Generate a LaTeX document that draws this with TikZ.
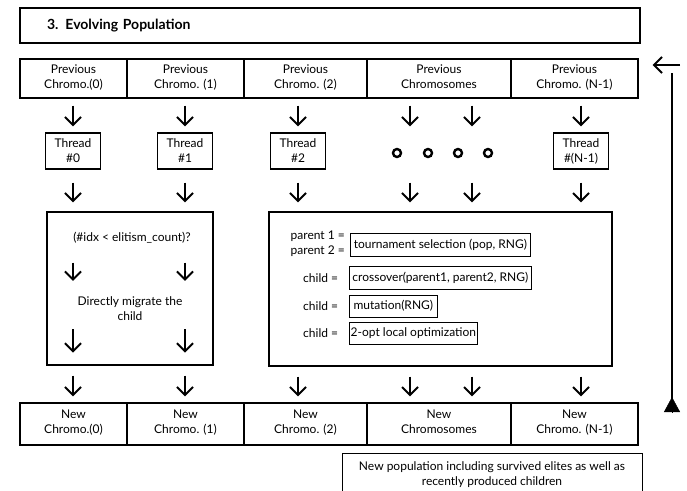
\documentclass[tikz,border=0pt]{standalone}
\usepackage{fontspec}
\setmainfont{Lato}
\usetikzlibrary{arrows.meta}

\tikzset{
  txt/.style={font=\fontsize{12}{15}\selectfont},
  cell/.style={txt, draw, line width=1.2pt, align=center, inner sep=0pt, minimum height=39pt, execute at end node=\strut},
  thread/.style={txt, draw, line width=1.2pt, align=center, inner sep=0pt, minimum width=55pt, minimum height=36pt},
  bigbox/.style={draw, line width=1.2pt, inner sep=0pt},
  fnbox/.style={txt, draw, line width=0.7pt, inner sep=0pt, minimum height=23pt, anchor=west},
  dotc/.style={circle, draw, line width=2.4pt, minimum size=8pt, inner sep=0pt},
  arr/.style={line width=1.6pt, -{Straight Barb[length=8pt,width=16pt,line width=2pt]}},
}

\begin{document}
\begin{tikzpicture}[x=1pt,y=-1pt]
		\useasboundingbox (0,0) rectangle (687,490);
		%%%%% START %%%%%
		
		\node[bigbox, font=\fontsize{14}{16}\selectfont\bfseries, minimum width=620pt, minimum height=35pt, text width=566pt, inner xsep=27pt, align=left] (title) at (330,25.5) {3. Evolving Population};
		
		% previous population
		\node[cell, minimum width=107pt] (p0) at (73.5,78.5) {Previous\\Chromo.(0)};
		\node[cell, minimum width=117pt] (p1) at (185.5,78.5) {Previous\\Chromo. (1)};
		\node[cell, minimum width=123pt] (p2) at (305.5,78.5) {Previous\\Chromo. (2)};
		\node[cell, minimum width=144pt] (p3) at (439,78.5) {Previous\\Chromosomes};
		\node[cell, minimum width=127pt] (p4) at (574.5,78.5) {Previous\\Chromo. (N-1)};
		
		% threads
		\node[thread] (t0) at (73,151) {Thread\\\#0};
		\node[thread] (t1) at (185,151) {Thread\\\#1};
		\node[thread] (t2) at (298,151) {Thread\\\#2};
		\node[thread] (tn) at (581,151) {Thread\\\#(N-1)};
		
		\coordinate (ca) at (410,151);
		\coordinate (cb) at (472,151);
		\node[dotc] (d0) at (397,153) {};
		\node[dotc] (d1) at (428,153) {};
		\node[dotc] (d2) at (458,153) {};
		\node[dotc] (d3) at (488,153) {};
		
		\draw[arr, shorten <=7pt, shorten >=6pt] (p0.south -| t0) -- (t0.north);
		\draw[arr, shorten <=7pt, shorten >=6pt] (p1.south -| t1) -- (t1.north);
		\draw[arr, shorten <=7pt, shorten >=6pt] (p2.south -| t2) -- (t2.north);
		\draw[arr, shorten <=7pt, shorten >=6pt] (p3.south -| ca) -- (t0.north -| ca);
		\draw[arr, shorten <=7pt, shorten >=6pt] (p3.south -| cb) -- (t0.north -| cb);
		\draw[arr, shorten <=7pt, shorten >=6pt] (p4.south -| tn) -- (tn.north);
		
		% elitism / evolution boxes
		\node[bigbox, minimum width=166pt, minimum height=153pt] (lbox) at (130,288.5) {};
		\node[bigbox, minimum width=343pt, minimum height=154pt] (rbox) at (440.5,289) {};
		
		\draw[arr, shorten <=13pt, shorten >=9pt] (t0.south) -- (lbox.north -| t0);
		\draw[arr, shorten <=13pt, shorten >=9pt] (t1.south) -- (lbox.north -| t1);
		\draw[arr, shorten <=13pt, shorten >=9pt] (t2.south) -- (rbox.north -| t2);
		\draw[arr, shorten <=13pt, shorten >=9pt] (t0.south -| ca) -- (rbox.north -| ca);
		\draw[arr, shorten <=13pt, shorten >=9pt] (t0.south -| cb) -- (rbox.north -| cb);
		\draw[arr, shorten <=13pt, shorten >=9pt] (tn.south) -- (rbox.north -| tn);
		
		\node[txt, inner sep=0pt] (cond) at (132,238) {(\#idx < elitism\_count)?};
		\node[txt, inner sep=0pt, align=center] (migr) at (130,309) {Directly migrate the\\child};
		\draw[arr, shorten <=19pt, shorten >=16pt] (cond.south -| t0) -- (migr.north -| t0);
		\draw[arr, shorten <=19pt, shorten >=16pt] (cond.south -| t1) -- (migr.north -| t1);
		\draw[arr, shorten <=8pt, shorten >=13pt] (migr.south -| t0) -- (lbox.south -| t0);
		\draw[arr, shorten <=8pt, shorten >=13pt] (migr.south -| t1) -- (lbox.south -| t1);
		
		\node[txt, inner sep=0pt, align=right, anchor=east] (par) at (345,244) {parent 1 =\\parent 2 =};
		\node[fnbox, minimum width=180pt] (sel) at (350,244.5) {tournament selection (pop, RNG)};
		\node[txt, inner sep=0pt, anchor=west] (ch1) at (303,278) {child =};
		\node[fnbox, minimum width=182pt] (cro) at (349,277.5) {crossover(parent1, parent2, RNG)};
		\node[txt, inner sep=0pt, anchor=west] (ch2) at (303,306) {child =};
		\node[fnbox, minimum width=88pt, minimum height=22pt] (mut) at (349,306) {mutation(RNG)};
		\node[txt, inner sep=0pt, anchor=west] (ch3) at (303,333) {child =};
		\node[fnbox, minimum width=128pt, minimum height=22pt] (opt) at (349,333) {2-opt local optimization};
		
		% new population
		\node[cell, minimum width=107pt, minimum height=42pt] (n0) at (73.5,424) {New\\Chromo.(0)};
		\node[cell, minimum width=117pt, minimum height=42pt] (n1) at (185.5,424) {New\\Chromo. (1)};
		\node[cell, minimum width=123pt, minimum height=42pt] (n2) at (305.5,424) {New\\Chromo. (2)};
		\node[cell, minimum width=144pt, minimum height=42pt] (n3) at (439,424) {New\\Chromosomes};
		\node[cell, minimum width=127pt, minimum height=42pt] (n4) at (574.5,424) {New\\Chromo. (N-1)};
		
		\draw[arr, shorten <=10pt, shorten >=6pt] (lbox.south -| t0) -- (n0.north -| t0);
		\draw[arr, shorten <=10pt, shorten >=6pt] (lbox.south -| t1) -- (n1.north -| t1);
		\draw[arr, shorten <=10pt, shorten >=6pt] (rbox.south -| t2) -- (n2.north -| t2);
		\draw[arr, shorten <=10pt, shorten >=6pt] (rbox.south -| ca) -- (n3.north -| ca);
		\draw[arr, shorten <=10pt, shorten >=6pt] (rbox.south -| cb) -- (n3.north -| cb);
		\draw[arr, shorten <=10pt, shorten >=6pt] (rbox.south -| tn) -- (n4.north -| tn);
		
		\node[txt, draw, line width=1pt, minimum width=300pt, minimum height=42pt, align=center, inner sep=0pt, anchor=north] (note) at (492,453) {New population including survived elites as well as\\recently produced children};
		
		% back to the start
		\coordinate (ltail) at (680,65);
		\coordinate (lptop) at (672,73);
		\coordinate (lpbase) at (672,412);
		\coordinate (lpapex) at (672,397);
		\draw[arr, shorten >=14pt] (ltail) -- (p4.east |- ltail);
		\draw[line width=1.3pt] (lptop) -- (lpbase);
		\draw[-{Triangle[length=15pt,width=16pt]}] (lpbase) -- (lpapex);
		
		%%%%% END %%%%%
\end{tikzpicture}
\end{document}
